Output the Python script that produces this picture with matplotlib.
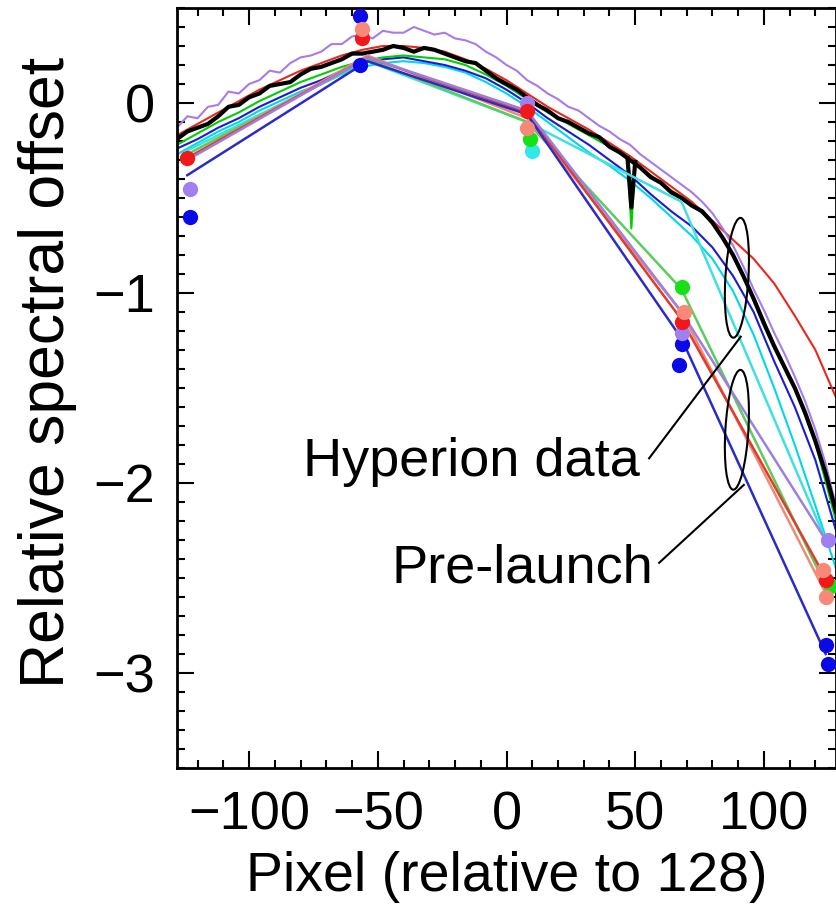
import numpy as np
import matplotlib
matplotlib.use("Agg")
import matplotlib.pyplot as plt
from matplotlib.patches import Ellipse
from matplotlib.transforms import ScaledTranslation
from matplotlib.ticker import MultipleLocator

plt.rcParams["font.family"] = ["Liberation Sans", "DejaVu Sans"]

# ---------------------------------------------------------------
# Hyperion (measured) curves
# ---------------------------------------------------------------
X4 = list(range(-128, 129, 4))
X8 = list(range(-128, 129, 8))

black_y = [-0.19, -0.15, -0.13, -0.11, -0.07, -0.02, -0.01, 0.03, 0.05, 0.09,
           0.10, 0.11, 0.15, 0.18, 0.19, 0.21, 0.23, 0.26, 0.26, 0.27,
           0.28, 0.30, 0.29, 0.27, 0.29, 0.28, 0.26, 0.24, 0.22, 0.21,
           0.17, 0.13, 0.10, 0.07, 0.03, -0.01, -0.04, -0.08, -0.10, -0.13,
           -0.16, -0.18, -0.23, -0.26, -0.30, -0.34, -0.39, -0.42, -0.47, -0.50,
           -0.54, -0.57, -0.63, -0.71, -0.80, -0.91, -1.03, -1.16, -1.28, -1.39,
           -1.50, -1.63, -1.78, -1.95, -2.15]
spike_x = [47.0, 48.5, 50.0]
spike_black = [-0.29, -0.55, -0.31]
spike_green = [-0.29, -0.66, -0.31]

purple_y = [-0.13, -0.07, -0.08, -0.02, -0.01, 0.06, 0.05, 0.10, 0.12, 0.17,
            0.16, 0.21, 0.24, 0.25, 0.27, 0.31, 0.31, 0.35, 0.36, 0.34,
            0.38, 0.37, 0.37, 0.40, 0.38, 0.36, 0.37, 0.34, 0.33, 0.31,
            0.27, 0.24, 0.20, 0.17, 0.12, 0.09, 0.05, 0.02, -0.02, -0.04,
            -0.08, -0.12, -0.15, -0.19, -0.22, -0.27, -0.31, -0.35, -0.39, -0.43,
            -0.47, -0.52, -0.58, -0.66, -0.75, -0.86, -0.98, -1.09, -1.21, -1.32,
            -1.44, -1.57, -1.72, -1.90, -2.12]

red_y = [-0.17, -0.11, -0.05, 0.01, 0.07, 0.12, 0.17, 0.21, 0.25, 0.28,
         0.30, 0.30, 0.29, 0.27, 0.23, 0.18, 0.12, 0.05, -0.02, -0.08,
         -0.14, -0.21, -0.28, -0.36, -0.44, -0.52, -0.62, -0.72, -0.82, -0.95,
         -1.12, -1.30, -1.55]
green_y = [-0.22, -0.16, -0.10, -0.05, 0.01, 0.06, 0.11, 0.15, 0.19, 0.22,
           0.24, 0.25, 0.24, 0.23, 0.20, 0.15, 0.09, 0.02, -0.05, -0.11,
           -0.17, -0.23, -0.30, -0.38, -0.46, -0.53, -0.63, -0.80, -1.02, -1.27,
           -1.50, -1.79, -2.20]
blue_y = [-0.24, -0.19, -0.13, -0.08, -0.02, 0.03, 0.08, 0.12, 0.17, 0.21,
          0.23, 0.24, 0.22, 0.20, 0.17, 0.13, 0.07, 0.00, -0.08, -0.15,
          -0.22, -0.30, -0.38, -0.48, -0.57, -0.65, -0.76, -0.91, -1.10, -1.36,
          -1.60, -1.88, -2.25]
cyan_y = [-0.27, -0.21, -0.15, -0.10, -0.04, 0.01, 0.06, 0.10, 0.15, 0.19,
          0.21, 0.22, 0.21, 0.19, 0.16, 0.11, 0.05, -0.02, -0.10, -0.18,
          -0.26, -0.33, -0.41, -0.50, -0.60, -0.70, -0.82, -0.99, -1.22, -1.50,
          -1.80, -2.12, -2.45]

# ---------------------------------------------------------------
# Pre-launch curves (lines + dots)
# ---------------------------------------------------------------
pre_x = [-124, -54, 8, 68, 124]
pre_blue = [-0.38, 0.22, -0.06, -1.24, -2.90]
pre_lav = [-0.30, 0.24, -0.04, -1.10, -2.30]
pre_red = [-0.29, 0.24, -0.05, -1.14, -2.50]
pre_salmon = [-0.29, 0.25, -0.08, -1.10, -2.58]
pre_green = [-0.27, 0.23, -0.10, -0.98, -2.54]
pre_cyan = [-0.25, 0.22, -0.10, -0.52, -2.30]

dot_blue_x = [-123, -57, -57, 68, 67, 124, 125]
dot_blue_y = [-0.60, 0.46, 0.20, -1.27, -1.38, -2.85, -2.95]
dot_lav_x = [-123, 8, 68, 125]
dot_lav_y = [-0.45, 0.00, -1.21, -2.30]
dot_red_x = [-124, -56, 8, 68, 124]
dot_red_y = [-0.29, 0.34, -0.04, -1.15, -2.51]
dot_salmon_x = [-56, 8, 69, 123, 124]
dot_salmon_y = [0.39, -0.13, -1.10, -2.46, -2.60]
dot_green_x = [9, 68, 126]
dot_green_y = [-0.19, -0.97, -2.54]
dot_cyan_x = [10]
dot_cyan_y = [-0.25]

# ---------------------------------------------------------------
# Figure
# ---------------------------------------------------------------
fig = plt.figure(figsize=(8.36, 9.18), dpi=100)
ax = fig.add_axes([177 / 836, 150 / 918, 659 / 836, 760 / 918])

ax.plot(X8, cyan_y, color="#00d8e8", lw=1.5, zorder=2)
ax.plot(X8, blue_y, color="#1a1ad8", lw=1.5, zorder=2)
ax.plot(X8, green_y, color="#00d000", lw=1.5, zorder=2)
ax.plot(spike_x, spike_green, color="#00d000", lw=1.5, zorder=2)
ax.plot(X8, red_y, color="#e8281e", lw=1.5, zorder=2)
ax.plot(X4, purple_y, color="#a67ce8", lw=1.5, zorder=2)
ax.plot(X4, black_y, color="black", lw=3.0, zorder=3)
ax.plot(spike_x, spike_black, color="black", lw=3.0, zorder=3)

pre = [(pre_cyan, "#40e0e0"), (pre_green, "#5ccc5c"), (pre_salmon, "#f08a78"),
       (pre_red, "#e03c2c"), (pre_lav, "#9b80e0"), (pre_blue, "#2b2bc8")]
for ys, c in pre:
    ax.plot(pre_x, ys, color=c, lw=1.8, zorder=4)

dots = [(dot_cyan_x, dot_cyan_y, "#30e8e8"), (dot_green_x, dot_green_y, "#18e018"),
        (dot_blue_x, dot_blue_y, "#0a0ae6"), (dot_lav_x, dot_lav_y, "#a080f0"),
        (dot_red_x, dot_red_y, "#f01818"), (dot_salmon_x, dot_salmon_y, "#f88878")]
for xs, ys, c in dots:
    ax.plot(xs, ys, "o", color=c, ms=11, mec="none", zorder=5)

# annotation ellipses and leader lines
for cy in (-0.92, -1.72):
    tr = fig.dpi_scale_trans + ScaledTranslation(89.5, cy, ax.transData)
    ax.add_patch(Ellipse((0, 0), 0.23, 1.2, angle=-3.5, transform=tr,
                         fill=False, ec="black", lw=1.5, zorder=6))
ax.plot([55.4, 91.0], [-1.87, -1.23], color="black", lw=1.5, zorder=6)
ax.plot([59.3, 92.2], [-2.42, -2.01], color="black", lw=1.5, zorder=6)
ax.text(52, -1.89, "Hyperion data", fontsize=39, ha="right", va="center", zorder=7)
ax.text(57, -2.45, "Pre-launch", fontsize=39, ha="right", va="center", zorder=7)

ax.set_xlim(-128, 128)
ax.set_ylim(-3.5, 0.5)
ax.xaxis.set_major_locator(MultipleLocator(50))
ax.xaxis.set_minor_locator(MultipleLocator(10))
ax.yaxis.set_major_locator(MultipleLocator(1))
ax.yaxis.set_minor_locator(MultipleLocator(0.1))
ax.tick_params(which="both", direction="in", top=True, right=True, width=1.5,
               labelsize=39, pad=16)
ax.tick_params(which="major", length=12)
ax.tick_params(which="minor", length=6)
for s in ax.spines.values():
    s.set_linewidth(2)

ax.set_xlabel("Pixel (relative to 128)", fontsize=40, labelpad=8)
ax.set_ylabel("Relative spectral offset", fontsize=45)
ax.yaxis.set_label_coords(-0.152, 0.521)

fig.savefig("out.png", dpi=100)
